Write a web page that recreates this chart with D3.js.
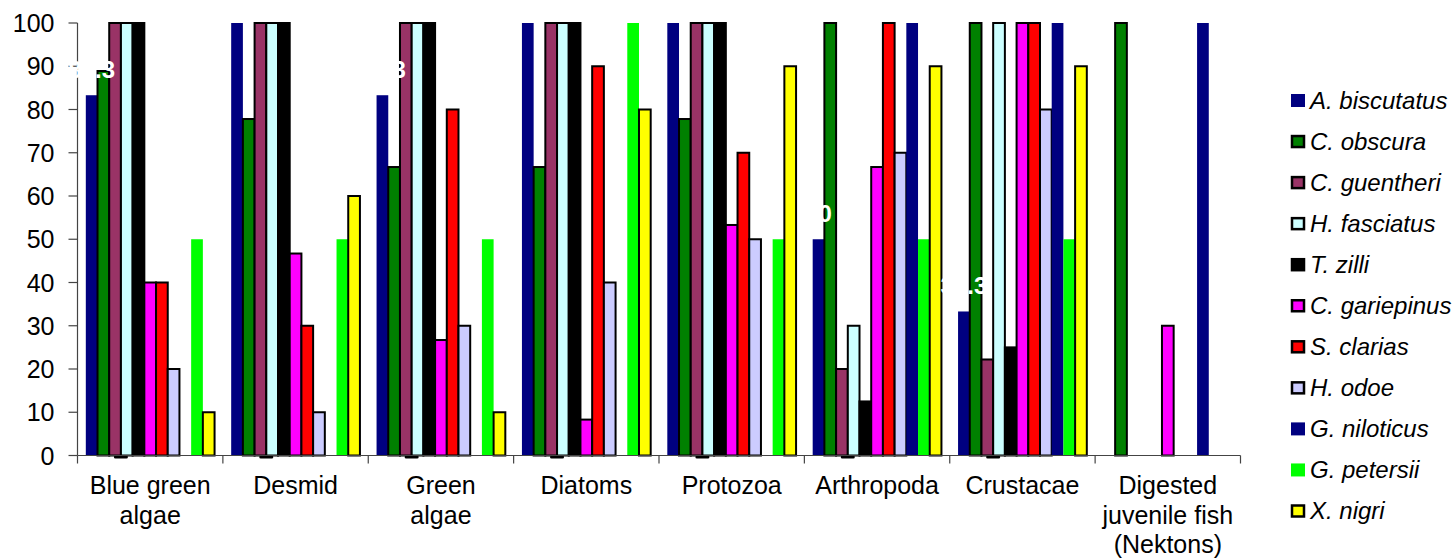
<!DOCTYPE html>
<html>
<head>
<meta charset="utf-8">
<script src="https://cdn.jsdelivr.net/npm/d3@7"></script>
<style>
  html, body { margin: 0; padding: 0; background: #fff; }
  svg { display: block; font-family: Arial, "Liberation Sans", sans-serif; }
</style>
</head>
<body>
<svg id="chart" width="1456" height="560"></svg>
<script>
// ---- data ----
const categories = [
  ["Blue green", "algae"],
  ["Desmid"],
  ["Green", "algae"],
  ["Diatoms"],
  ["Protozoa"],
  ["Arthropoda"],
  ["Crustacae"],
  ["Digested", "juvenile fish", "(Nektons)"]
];
const seriesNames = [
  "A. biscutatus", "C. obscura", "C. guentheri", "H. fasciatus", "T. zilli",
  "C. gariepinus", "S. clarias", "H. odoe", "G. niloticus", "G. petersii", "X. nigri"
];
const seriesColors = [
  "#000080", "#008000", "#993366", "#CCFFFF", "#000000",
  "#FF00FF", "#FF0000", "#CCCCFF", "#000080", "#00FF00", "#FFFF00"
];
const seriesBordered = [false, true, true, true, true, true, true, true, false, false, true];

// values[series][category]
const aBiscutatus  = [83.3, 100, 83.3, 100, 100, 50, 33.3, 0];
const cObscura     = [88.9, 77.8, 66.7, 66.7, 77.8, 100, 100, 100];
const cGuentheri   = [100, 100, 100, 100, 100, 20, 22.2, 0];
const hFasciatus   = [100, 100, 100, 100, 100, 30, 100, 0];
const tZilli       = [100, 100, 100, 100, 100, 12.5, 25, 0];
const cGariepinus  = [40, 46.7, 26.7, 8.3, 53.3, 66.7, 100, 30];
const sClarias     = [40, 30, 80, 90, 70, 100, 100, 0];
const hOdoe        = [20, 10, 30, 40, 50, 70, 80, 0];
const gNiloticus   = [0, 0, 0, 0, 0, 100, 100, 100];
const gPetersii    = [50, 50, 50, 100, 50, 50, 50, 0];
const xNigri       = [10, 60, 10, 80, 90, 90, 90, 0];
const seriesValues = [aBiscutatus, cObscura, cGuentheri, hFasciatus, tZilli,
  cGariepinus, sClarias, hOdoe, gNiloticus, gPetersii, xNigri];

const labelSeries = 0; // A. biscutatus carries (white) data labels
const yTicks = [0, 10, 20, 30, 40, 50, 60, 70, 80, 90, 100];
const baseMarks = [1, 1, 1, 1, 1, 1, 1, 0]; // small black marks below the baseline

// ---- layout ----
const svg = d3.select("#chart");
const plot = { left: 77.5, right: 1240.5, top: 23, bottom: 455.5 };
const catKeys = categories.map((c, i) => i);

const x0 = d3.scaleBand().domain(catKeys).range([plot.left, plot.right]).paddingInner(0).paddingOuter(0);
const x1 = d3.scaleBand().domain(d3.range(seriesNames.length))
  .range([0, x0.bandwidth()]).paddingInner(0).paddingOuter(0.71);
const y = d3.scaleLinear().domain([0, 100]).range([plot.bottom, plot.top]);

// bars
seriesValues.forEach((vals, si) => {
  svg.append("g")
    .selectAll("rect")
    .data(vals.map((v, ci) => ({ v, ci })).filter(d => d.v > 0))
    .join("rect")
    .attr("x", d => x0(d.ci) + x1(si))
    .attr("y", d => y(d.v))
    .attr("width", x1.bandwidth())
    .attr("height", d => y(0) - y(d.v))
    .attr("fill", seriesColors[si])
    .attr("stroke", seriesBordered[si] ? "#000" : "none")
    .attr("stroke-width", 2);
});

// marks under baseline
svg.append("g").selectAll("rect")
  .data(baseMarks.map((m, ci) => ({ m, ci })).filter(d => d.m))
  .join("rect")
  .attr("x", d => x0(d.ci) + x1(3) - x1.bandwidth() * 0.6)
  .attr("y", y(0))
  .attr("width", x1.bandwidth() * 1.2)
  .attr("height", 3)
  .attr("rx", 1.5)
  .attr("fill", "#000");

// y axis
const yAxis = svg.append("g").attr("transform", `translate(${plot.left},0)`);
yAxis.append("line").attr("x1", 0).attr("x2", 0).attr("y1", y(100)).attr("y2", y(0))
  .attr("stroke", "#444").attr("stroke-width", 1.2);
yAxis.selectAll("line.tick").data(yTicks).join("line").attr("class", "tick")
  .attr("x1", -9).attr("x2", 0).attr("y1", d => y(d)).attr("y2", d => y(d))
  .attr("stroke", "#444").attr("stroke-width", 1.2);
yAxis.selectAll("text").data(yTicks).join("text")
  .attr("x", -23).attr("y", d => y(d)).attr("dy", "0.36em")
  .attr("text-anchor", "end").attr("font-size", 25).attr("fill", "#000")
  .text(d => d);

// x axis
const xAxis = svg.append("g");
xAxis.append("line").attr("x1", plot.left).attr("x2", plot.right)
  .attr("y1", y(0)).attr("y2", y(0)).attr("stroke", "#444").attr("stroke-width", 1.2);
const boundaries = catKeys.map(k => x0(k)).concat([x0(catKeys.length - 1) + x0.bandwidth()]);
xAxis.selectAll("line.tick").data(boundaries).join("line").attr("class", "tick")
  .attr("x1", d => d).attr("x2", d => d).attr("y1", y(0)).attr("y2", y(0) + 8)
  .attr("stroke", "#444").attr("stroke-width", 1.2);
const catLabels = xAxis.selectAll("text").data(categories).join("text")
  .attr("text-anchor", "middle").attr("font-size", 25).attr("fill", "#000")
  .attr("transform", (d, i) => `translate(${x0(i) + x0.bandwidth() / 2},494)`);
catLabels.selectAll("tspan").data(d => d).join("tspan")
  .attr("x", 0).attr("y", (d, i) => i * 29.5).text(d => d);

// data labels (white) for A. biscutatus — only those that fit in the picture
const labelOffset = 17, labelSize = 24;
svg.append("g").selectAll("text")
  .data(seriesValues[labelSeries].map((v, ci) => ({ v, ci }))
    .filter(d => d.v > 0 && y(d.v) - labelOffset - labelSize * 0.75 >= 0))
  .join("text")
  .attr("x", d => x0(d.ci) + x1(labelSeries) + x1.bandwidth() / 2)
  .attr("y", d => y(d.v) - labelOffset)
  .attr("text-anchor", "middle").attr("font-size", labelSize).attr("font-weight", "bold")
  .attr("fill", "#fff")
  .text(d => d.v);

// legend
const legend = svg.append("g").attr("transform", "translate(1291,100.5)");
const li = legend.selectAll("g").data(seriesNames).join("g")
  .attr("transform", (d, i) => `translate(0,${i * 41.05})`);
li.append("rect")
  .attr("x", (d, i) => seriesBordered[i] ? 1 : 0)
  .attr("y", (d, i) => seriesBordered[i] ? -5.5 : -6.5)
  .attr("width", (d, i) => seriesBordered[i] ? 12 : 14)
  .attr("height", (d, i) => seriesBordered[i] ? 11 : 13)
  .attr("fill", (d, i) => seriesColors[i])
  .attr("stroke", (d, i) => seriesBordered[i] ? "#000" : "none")
  .attr("stroke-width", 2.5);
li.append("text").attr("x", 19).attr("y", 0).attr("dy", "0.35em")
  .attr("font-size", 24).attr("font-style", "italic").attr("fill", "#000")
  .text(d => d);
</script>
</body>
</html>
